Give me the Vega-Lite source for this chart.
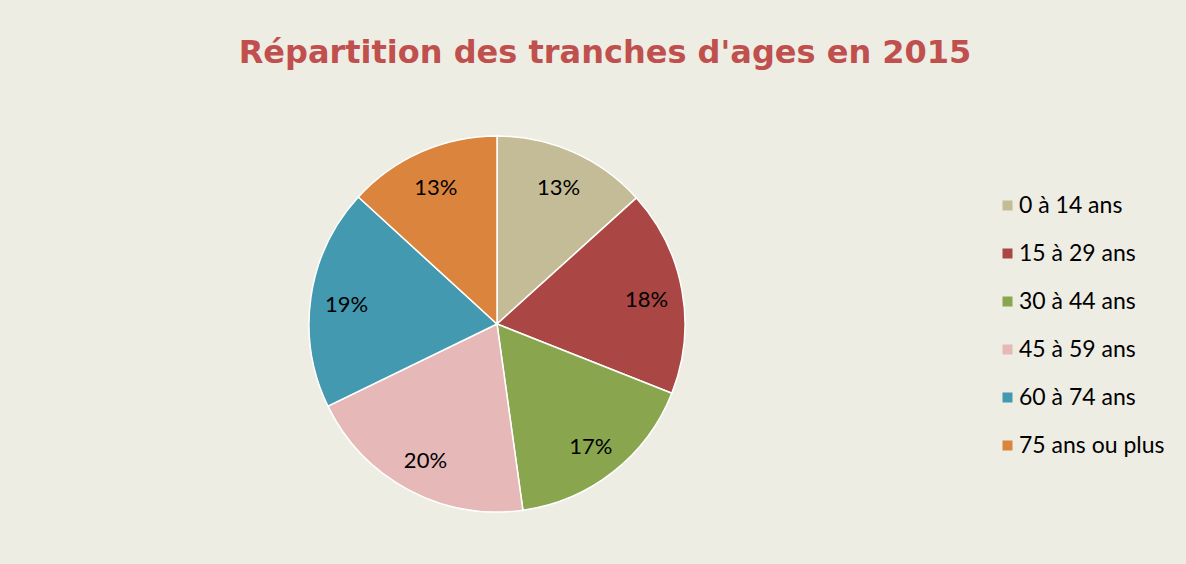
{
  "$schema": "https://vega.github.io/schema/vega-lite/v6.json",
  "width": 976,
  "height": 624,
  "autosize": {"type": "none"},
  "padding": {"left": 9, "top": 12, "right": 201, "bottom": -72},
  "background": "#eeede4",
  "title": {
    "text": "Répartition des tranches d'ages en 2015",
    "font": "DejaVu Sans",
    "fontSize": 32,
    "fontWeight": "bold",
    "color": "#c0504d",
    "anchor": "middle",
    "frame": "group",
    "dx": 108,
    "dy": 30,
    "baseline": "alphabetic",
    "offset": -53
  },
  "data": {
    "values": [
      {"tranche": "0 à 14 ans", "part": 0.133},
      {"tranche": "15 à 29 ans", "part": 0.177},
      {"tranche": "30 à 44 ans", "part": 0.168},
      {"tranche": "45 à 59 ans", "part": 0.200},
      {"tranche": "60 à 74 ans", "part": 0.190},
      {"tranche": "75 ans ou plus", "part": 0.132}
    ]
  },
  "encoding": {
    "theta": {"field": "part", "type": "quantitative", "stack": true},
    "order": {"field": "tranche", "type": "ordinal", "sort": "ascending"},
    "color": {
      "field": "tranche",
      "type": "nominal",
      "scale": {
        "domain": ["0 à 14 ans", "15 à 29 ans", "30 à 44 ans", "45 à 59 ans", "60 à 74 ans", "75 ans ou plus"],
        "range": ["#c4bc96", "#aa4644", "#89a64e", "#e6b8b7", "#4299b0", "#db843d"]
      },
      "legend": {
        "orient": "none",
        "legendX": 987,
        "legendY": 182,
        "title": null,
        "symbolType": "square",
        "symbolSize": 100,
        "symbolStrokeWidth": 0,
        "labelFont": "Lato",
        "labelFontSize": 23,
        "labelColor": "#000000",
        "rowPadding": 24,
        "labelOffset": 0
      }
    }
  },
  "layer": [
    {"mark": {"type": "arc", "outerRadius": 188, "stroke": "#ffffff", "strokeWidth": 1.5}},
    {
      "mark": {"type": "text", "radius": 152, "font": "Lato", "fontSize": 22, "color": "#000000", "dy": 3},
      "encoding": {
        "text": {"field": "part", "type": "quantitative", "format": ".0%"},
        "detail": {"field": "tranche", "type": "nominal"},
        "color": {"value": "#000000"}
      }
    }
  ],
  "config": {"view": {"stroke": null}}
}
